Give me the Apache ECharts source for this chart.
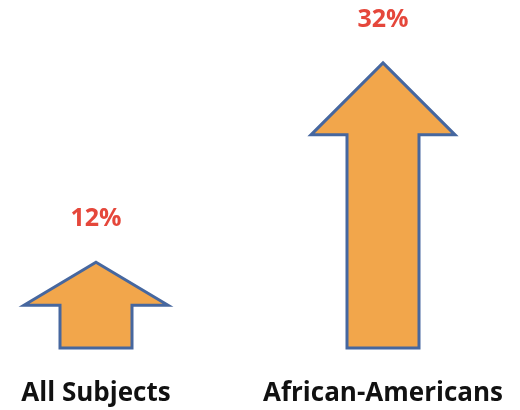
<!DOCTYPE html>
<html>
<head>
<meta charset="utf-8">
<script src="https://cdn.jsdelivr.net/npm/echarts@6/dist/echarts.min.js"></script>
<style>
  html, body { margin: 0; padding: 0; background: #ffffff; }
  #chart { width: 520px; height: 410px; }
</style>
</head>
<body>
<div id="chart"></div>
<script>
// gains shown as up-arrows, one per group
var groups = ['All Subjects', 'African-Americans'];
var increase = [12, 32];

var yMin = 3.4, yMax = 36.3;

function renderArrow(params, api) {
  var tip = api.coord([api.value(0), api.value(1)]);
  var base = api.coord([api.value(0), yMin]);
  var x = tip[0];
  var h = base[1] - tip[1];
  var head = Math.min(72, h / 2);
  var hw = 72, sw = 36;
  var neck = tip[1] + head;
  var pts = [
    [x, tip[1]], [x + hw, neck], [x + sw, neck], [x + sw, base[1]],
    [x - sw, base[1]], [x - sw, neck], [x - hw, neck]
  ];
  return {
    type: 'group',
    children: [
      {
        type: 'polygon',
        shape: { points: pts },
        style: { fill: '#F2A64B', stroke: '#46679F', lineWidth: 3, lineJoin: 'miter' }
      },
      {
        type: 'text',
        x: x, y: tip[1] - 43,
        style: {
          text: api.value(1) + '%',
          fill: '#E5473B',
          font: 'bold 25px "Open Sans"',
          textAlign: 'center',
          textVerticalAlign: 'middle'
        }
      }
    ]
  };
}

var chart = echarts.init(document.getElementById('chart'));
chart.setOption({
  animation: false,
  grid: { left: 96, right: 137, top: 20, bottom: 62 },
  xAxis: {
    type: 'category',
    data: groups,
    boundaryGap: false,
    axisLine: { show: false },
    axisTick: { show: false },
    axisLabel: {
      interval: 0,
      showMinLabel: true,
      showMaxLabel: true,
      hideOverlap: false,
      margin: 33,
      color: '#111111',
      fontFamily: 'Open Sans',
      fontWeight: 'bold',
      fontSize: 26
    }
  },
  yAxis: { type: 'value', min: yMin, max: yMax, show: false },
  series: [{
    type: 'custom',
    renderItem: renderArrow,
    clip: false,
    data: increase.map(function (v, i) { return [i, v]; })
  }]
});
</script>
</body>
</html>
